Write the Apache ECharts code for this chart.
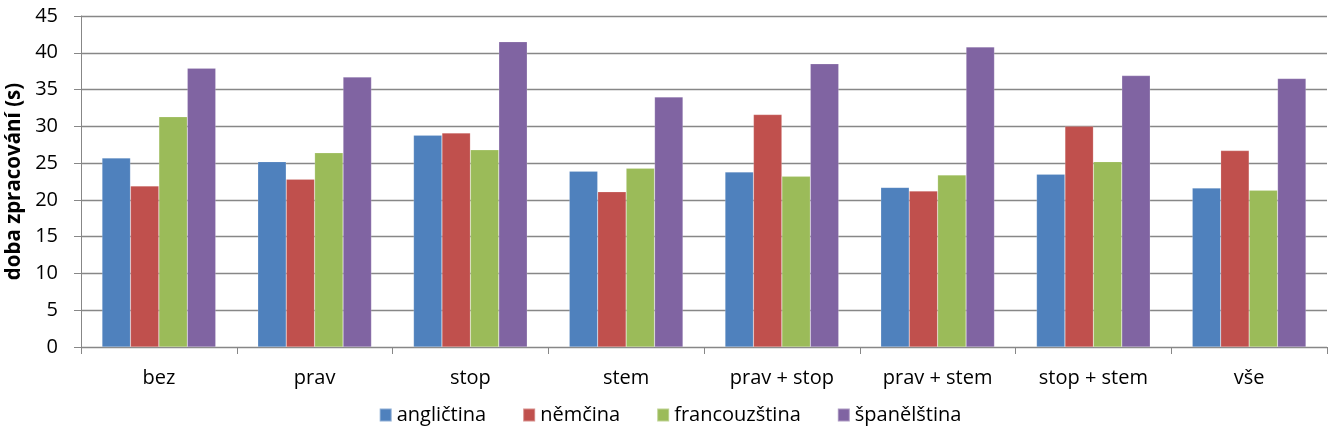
<!DOCTYPE html>
<html><head><meta charset="utf-8">
<script src="https://cdn.jsdelivr.net/npm/echarts@6/dist/echarts.min.js"></script>
<style>html,body{margin:0;padding:0;background:#fff}#c{width:1340px;height:435px}</style>
</head><body><div id="c"></div>
<script>
const categories = ["bez","prav","stop","stem","prav + stop","prav + stem","stop + stem","vše"];
const seriesNames = ["angličtina","němčina","francouzština","španělština"];
const anglictina    = [25.7, 25.2, 28.8, 23.9, 23.8, 21.7, 23.5, 21.6];
const nemcina       = [21.9, 22.8, 29.1, 21.1, 31.6, 21.2, 30.0, 26.7];
const francouzstina = [31.3, 26.4, 26.8, 24.3, 23.2, 23.4, 25.2, 21.3];
const spanelstina   = [37.9, 36.7, 41.5, 34.0, 38.5, 40.8, 36.9, 36.5];
const yTicks = {min: 0, max: 45, interval: 5};

const colors = ["#4F81BD","#C0504D","#9BBB59","#8064A2"];
const font = "'Open Sans', 'Noto Sans', sans-serif";
const data = [anglictina, nemcina, francouzstina, spanelstina];
const chart = echarts.init(document.getElementById('c'), null, {renderer:'canvas'});
chart.setOption({
  animation:false,
  color: colors,
  textStyle:{fontFamily:font},
  grid:{left:81, right:13, top:16, bottom:88, containLabel:false, outerBoundsMode:'none'},
  legend:{
    bottom:5, left:'center', itemWidth:12, itemHeight:13, itemGap:36, icon:'rect',
    textStyle:{fontSize:20, color:'#000', fontFamily:font},
    data: seriesNames
  },
  xAxis:{
    type:'category', data:categories,
    axisLine:{lineStyle:{color:'#878787', width:1}},
    axisTick:{show:true, length:7, lineStyle:{color:'#878787'}},
    axisLabel:{fontSize:20, color:'#000', margin:21, fontFamily:font}
  },
  yAxis:{
    type:'value', min:yTicks.min, max:yTicks.max, interval:yTicks.interval,
    name:'doba zpracování (s)', nameLocation:'middle', nameGap:55,
    nameTextStyle:{fontSize:20.5, fontWeight:'bold', color:'#000', fontFamily:font},
    axisLine:{show:true, lineStyle:{color:'#878787'}},
    axisTick:{show:true, length:7, lineStyle:{color:'#878787'}},
    axisLabel:{fontSize:20, color:'#000', margin:23, fontFamily:font},
    splitLine:{lineStyle:{color:'#878787', width:1.3}}
  },
  series: seriesNames.map((n,i)=>({
    name:n, type:'bar', data:data[i], barGap:'0%', barCategoryGap:'27%',
    itemStyle:{color:colors[i], borderColor:'rgba(255,255,255,0.35)', borderWidth:0.5}
  }))
});
</script></body></html>
